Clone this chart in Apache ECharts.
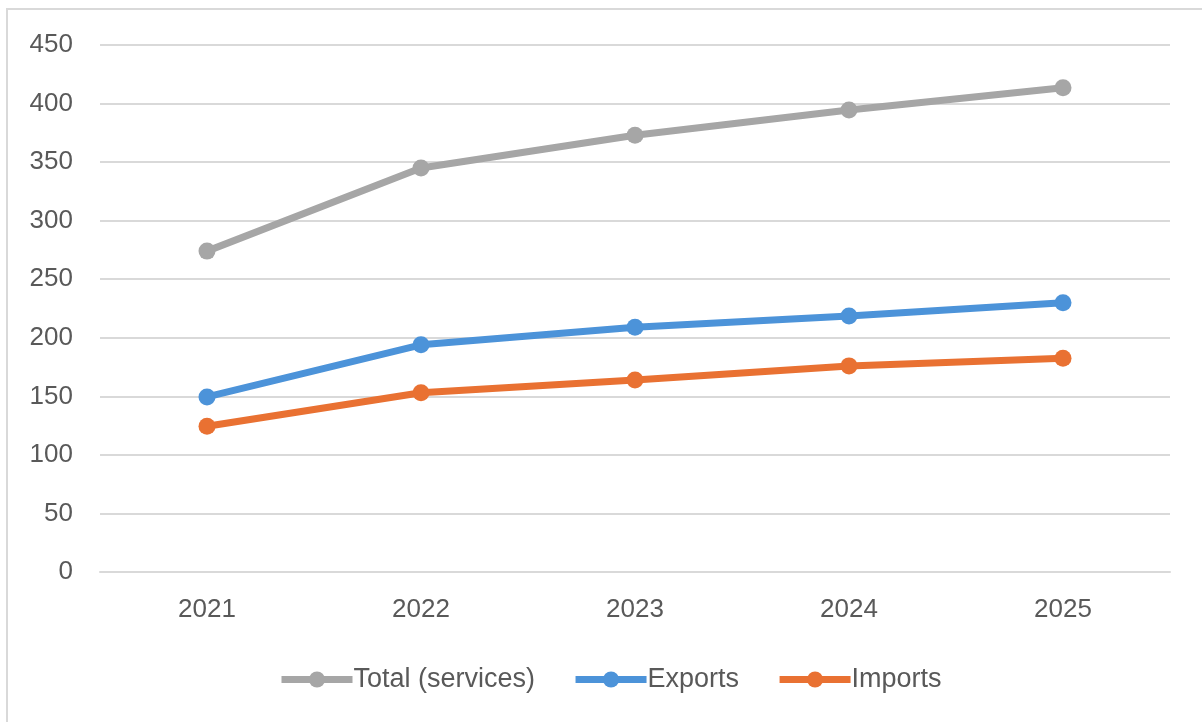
<!DOCTYPE html>
<html><head><meta charset="utf-8">
<script src="https://cdn.jsdelivr.net/npm/echarts@6/dist/echarts.min.js"></script>
<style>html,body{margin:0;padding:0;background:#fff}#c{width:1202px;height:722px}</style>
</head><body><div id="c"></div>
<script>
const years = ['2021','2022','2023','2024','2025'];
const totalServices = [274, 345, 373, 394.5, 413.5];
const exportsVals = [149.5, 194, 209, 218.5, 230];
const importsVals = [124.5, 153, 164, 176, 182.5];
const seriesNames = ['Total (services)', 'Exports', 'Imports'];
const colors = ['#A6A6A6', '#4C93D9', '#E97132'];

const chart = echarts.init(document.getElementById('c'));
const mk = (name, data, color) => ({
  name, type: 'line', data,
  symbol: 'circle', symbolSize: 17,
  itemStyle: { color },
  lineStyle: { color, width: 7 },
  emphasis: { disabled: true },
  animation: false
});
chart.setOption({
  animation: false,
  graphic: [{ type: 'rect', shape: { x: 7, y: 9, width: 1300, height: 800 }, style: { fill: 'none', stroke: '#d9d9d9', lineWidth: 2 } }],
  grid: { left: 100, right: 32, top: 45, bottom: 150 },
  xAxis: {
    type: 'category', data: years, boundaryGap: true,
    axisLine: { show: true, lineStyle: { color: '#d9d9d9', width: 2 } },
    axisTick: { show: false },
    axisLabel: { color: '#595959', fontSize: 26, margin: 25, fontFamily: 'Liberation Sans, Arial, sans-serif' }
  },
  yAxis: {
    type: 'value', min: 0, max: 450, interval: 50,
    axisLine: { show: false }, axisTick: { show: false },
    splitLine: { lineStyle: { color: '#d9d9d9', width: 2 } },
    axisLabel: { color: '#595959', fontSize: 26, margin: 27, fontFamily: 'Liberation Sans, Arial, sans-serif' }
  },
  legend: {
    data: seriesNames, top: 661, left: 273,
    itemWidth: 71, itemHeight: 20, itemGap: 37,
    lineStyle: { width: 7 },
    textStyle: { color: '#595959', fontSize: 27, fontFamily: 'Liberation Sans, Arial, sans-serif', padding: [0,0,0,-4] }
  },
  series: [
    mk(seriesNames[0], totalServices, colors[0]),
    mk(seriesNames[1], exportsVals, colors[1]),
    mk(seriesNames[2], importsVals, colors[2])
  ]
});
</script></body></html>
